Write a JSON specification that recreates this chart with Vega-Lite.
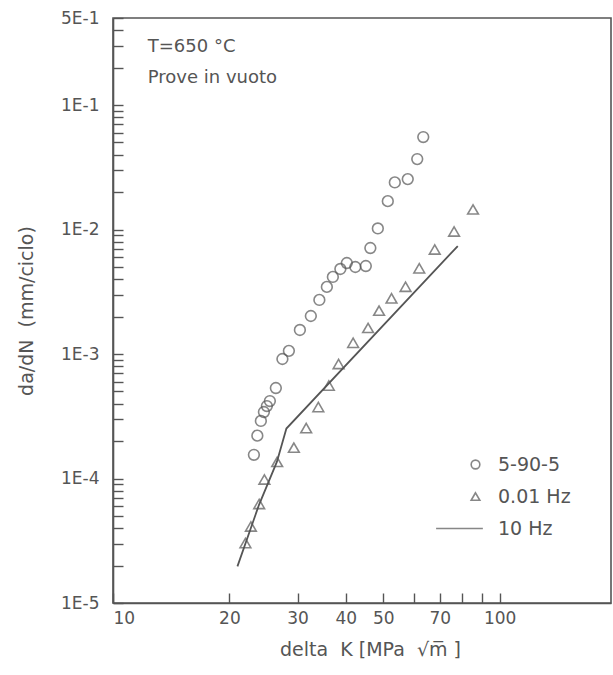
{
  "$schema": "https://vega.github.io/schema/vega-lite/v6.json",
  "width": 498,
  "height": 585,
  "autosize": "none",
  "padding": {"left": 113, "top": 18, "right": 2, "bottom": 72},
  "background": "white",
  "config": {
    "font": "DejaVu Sans",
    "view": {"stroke": "#555", "strokeWidth": 1.6},
    "axis": {
      "domainColor": "#555",
      "domainWidth": 1.6,
      "tickColor": "#555",
      "tickWidth": 1.4,
      "tickSize": -10,
      "grid": false,
      "labelFont": "DejaVu Sans",
      "labelFontSize": 17,
      "labelColor": "#555",
      "titleFont": "DejaVu Sans",
      "titleFontSize": 19,
      "titleFontWeight": "normal",
      "titleColor": "#555",
      "labelOverlap": false
    }
  },
  "datasets": {
    "points": [
      {"dK": 23.14, "dadN": 0.000155, "series": "5-90-5"},
      {"dK": 23.62, "dadN": 0.000221, "series": "5-90-5"},
      {"dK": 24.12, "dadN": 0.00029, "series": "5-90-5"},
      {"dK": 24.56, "dadN": 0.000342, "series": "5-90-5"},
      {"dK": 25.0, "dadN": 0.000382, "series": "5-90-5"},
      {"dK": 25.45, "dadN": 0.000419, "series": "5-90-5"},
      {"dK": 26.37, "dadN": 0.000533, "series": "5-90-5"},
      {"dK": 27.42, "dadN": 0.000912, "series": "5-90-5"},
      {"dK": 28.5, "dadN": 0.00106, "series": "5-90-5"},
      {"dK": 30.43, "dadN": 0.00156, "series": "5-90-5"},
      {"dK": 32.48, "dadN": 0.00202, "series": "5-90-5"},
      {"dK": 34.17, "dadN": 0.00272, "series": "5-90-5"},
      {"dK": 35.73, "dadN": 0.00346, "series": "5-90-5"},
      {"dK": 37.03, "dadN": 0.00416, "series": "5-90-5"},
      {"dK": 38.72, "dadN": 0.00482, "series": "5-90-5"},
      {"dK": 40.24, "dadN": 0.00538, "series": "5-90-5"},
      {"dK": 42.33, "dadN": 0.005, "series": "5-90-5"},
      {"dK": 45.06, "dadN": 0.00509, "series": "5-90-5"},
      {"dK": 46.29, "dadN": 0.0071, "series": "5-90-5"},
      {"dK": 48.4, "dadN": 0.0102, "series": "5-90-5"},
      {"dK": 51.36, "dadN": 0.0169, "series": "5-90-5"},
      {"dK": 53.55, "dadN": 0.0239, "series": "5-90-5"},
      {"dK": 57.84, "dadN": 0.0254, "series": "5-90-5"},
      {"dK": 61.2, "dadN": 0.0368, "series": "5-90-5"},
      {"dK": 63.43, "dadN": 0.0553, "series": "5-90-5"},
      {"dK": 22.0, "dadN": 0.0000303, "series": "0.01 Hz"},
      {"dK": 22.73, "dadN": 0.0000412, "series": "0.01 Hz"},
      {"dK": 23.88, "dadN": 0.0000624, "series": "0.01 Hz"},
      {"dK": 24.63, "dadN": 0.0000982, "series": "0.01 Hz"},
      {"dK": 26.58, "dadN": 0.000136, "series": "0.01 Hz"},
      {"dK": 29.36, "dadN": 0.000177, "series": "0.01 Hz"},
      {"dK": 31.59, "dadN": 0.000254, "series": "0.01 Hz"},
      {"dK": 33.96, "dadN": 0.000375, "series": "0.01 Hz"},
      {"dK": 36.15, "dadN": 0.000558, "series": "0.01 Hz"},
      {"dK": 38.31, "dadN": 0.000831, "series": "0.01 Hz"},
      {"dK": 41.78, "dadN": 0.00123, "series": "0.01 Hz"},
      {"dK": 45.67, "dadN": 0.00162, "series": "0.01 Hz"},
      {"dK": 48.76, "dadN": 0.00223, "series": "0.01 Hz"},
      {"dK": 52.51, "dadN": 0.0028, "series": "0.01 Hz"},
      {"dK": 57.08, "dadN": 0.00347, "series": "0.01 Hz"},
      {"dK": 61.94, "dadN": 0.00488, "series": "0.01 Hz"},
      {"dK": 67.92, "dadN": 0.00691, "series": "0.01 Hz"},
      {"dK": 76.21, "dadN": 0.00964, "series": "0.01 Hz"},
      {"dK": 85.31, "dadN": 0.0145, "series": "0.01 Hz"}
    ],
    "line10Hz": [
      {"dK": 20.98, "dadN": 0.0000197, "series": "10 Hz"},
      {"dK": 23.84, "dadN": 0.0000612, "series": "10 Hz"},
      {"dK": 26.53, "dadN": 0.000136, "series": "10 Hz"},
      {"dK": 28.08, "dadN": 0.000252, "series": "10 Hz"},
      {"dK": 77.9, "dadN": 0.00737, "series": "10 Hz"}
    ],
    "notes": [
      {"dK": 12.3, "dadN": 0.29, "label": "T=650 °C"},
      {"dK": 12.3, "dadN": 0.165, "label": "Prove in vuoto"}
    ]
  },
  "layer": [
    {
      "data": {"name": "line10Hz"},
      "mark": {"type": "line", "color": "#555", "strokeWidth": 1.8},
      "encoding": {
        "x": {
          "field": "dK", "type": "quantitative",
          "scale": {"type": "log", "domain": [10, 194], "nice": false},
          "axis": {
            "title": "delta\u00a0 K [MPa\u00a0 √m̅ ]",
            "values": [10, 20, 30, 40, 50, 60, 70, 80, 90, 100],
            "labelExpr": "indexof([10, 20, 30, 40, 50, 70, 100], datum.value) >= 0 ? format(datum.value, 'd') : ''",
            "labelFlush": true,
            "labelPadding": 17,
            "titlePadding": 14,
            "titleX": 257
          }
        },
        "y": {
          "field": "dadN", "type": "quantitative",
          "scale": {"type": "log", "domain": [0.00001, 0.5], "nice": false},
          "axis": {
            "title": "da/dN\u00a0 (mm/ciclo)",
            "values": [0.00001, 0.00002, 0.00003, 0.00004, 0.00005, 0.00006, 0.00007, 0.00008, 0.00009,
                       0.0001, 0.0002, 0.0003, 0.0004, 0.0005, 0.0006, 0.0007, 0.0008, 0.0009,
                       0.001, 0.002, 0.003, 0.004, 0.005, 0.006, 0.007, 0.008, 0.009,
                       0.01, 0.02, 0.03, 0.04, 0.05, 0.06, 0.07, 0.08, 0.09,
                       0.1, 0.2, 0.3, 0.4, 0.5],
            "labelExpr": "indexof([0.00001, 0.0001, 0.001, 0.01, 0.1, 0.5], datum.value) >= 0 ? upper(format(datum.value, '.0e')) : ''",
            "labelFlush": false,
            "labelPadding": 24,
            "titlePadding": 24
          }
        }
      }
    },
    {
      "data": {"name": "points"},
      "mark": {"type": "point", "filled": false, "color": "#555", "strokeWidth": 1.6, "size": 115},
      "encoding": {
        "x": {"field": "dK", "type": "quantitative"},
        "y": {"field": "dadN", "type": "quantitative"},
        "shape": {
          "field": "series", "type": "nominal",
          "scale": {"domain": ["5-90-5", "0.01 Hz", "10 Hz"], "range": ["circle", "triangle-up", "M-9.1,0H1.7"]},
          "legend": {
            "title": null,
            "orient": "none",
            "legendX": 353,
            "legendY": 437,
            "padding": 0,
            "symbolSize": 75,
            "symbolStrokeWidth": 1.6,
            "symbolStrokeColor": "#555",
            "symbolFillColor": "transparent",
            "labelFont": "DejaVu Sans",
            "labelFontSize": 19,
            "labelColor": "#555",
            "labelOffset": 13,
            "rowPadding": 12
          }
        }
      }
    },
    {
      "data": {"name": "notes"},
      "mark": {"type": "text", "align": "left", "baseline": "middle", "fontSize": 18, "color": "#555", "font": "DejaVu Sans"},
      "encoding": {
        "x": {"field": "dK", "type": "quantitative"},
        "y": {"field": "dadN", "type": "quantitative"},
        "text": {"field": "label"}
      }
    }
  ]
}
